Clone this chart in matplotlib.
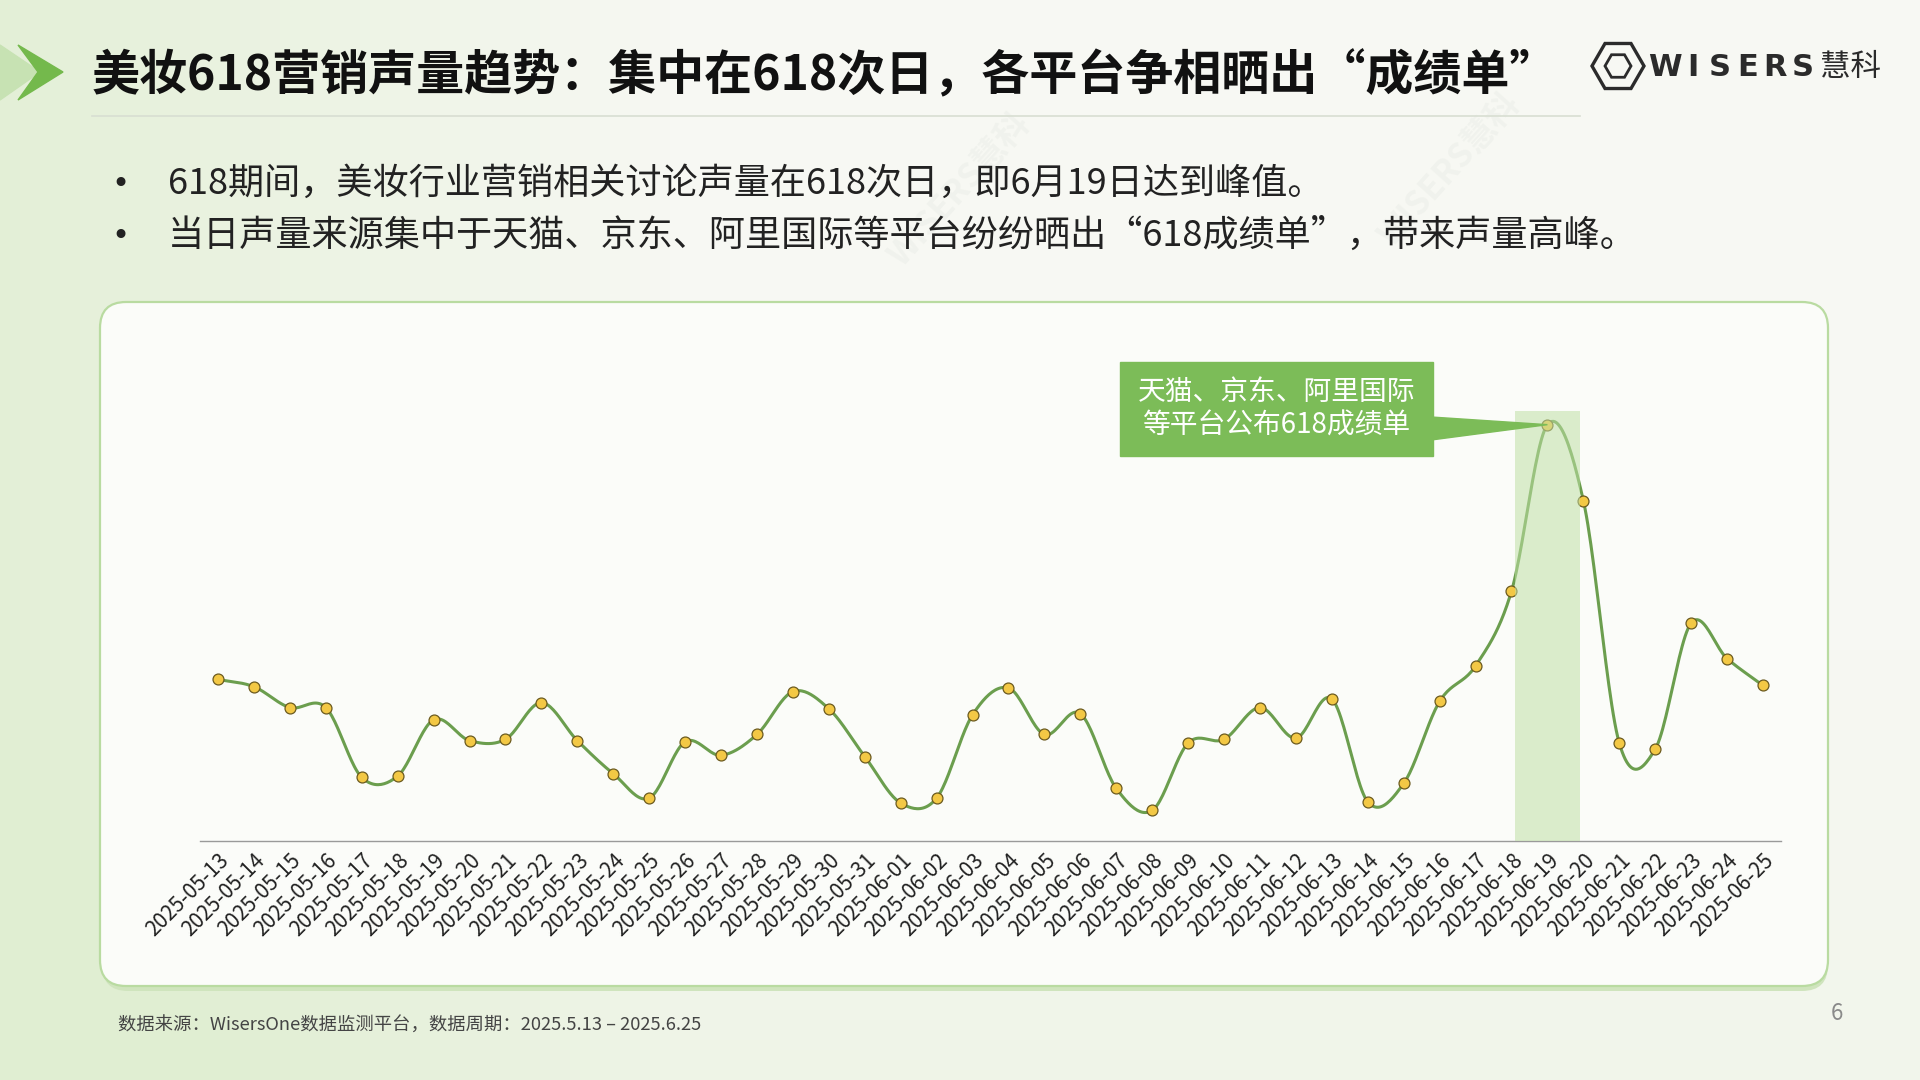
import matplotlib
matplotlib.use('Agg')
import matplotlib.pyplot as plt
import numpy as np
from matplotlib.patches import FancyBboxPatch, Polygon, Rectangle, RegularPolygon

CJK = ['Noto Sans CJK SC', 'DejaVu Sans']
plt.rcParams['font.family'] = CJK

# ---- data (arbitrary volume units) ----
dates = ['2025-05-%02d' % d for d in range(13, 32)] + ['2025-06-%02d' % d for d in range(1, 26)]
volume = [132, 126, 109, 109, 52, 53, 99, 82, 83, 113, 82, 55, 35, 81, 70, 87,
          122, 108, 69, 31, 35, 103, 125, 87, 104, 43, 25, 80, 83, 109, 84, 116,
          32, 47, 114, 143, 204, 340, 278, 80, 75, 178, 149, 127]
peak_date = '2025-06-19'

title = '美妆618营销声量趋势：集中在618次日，各平台争相晒出“成绩单”'
bullets = ['618期间，美妆行业营销相关讨论声量在618次日，即6月19日达到峰值。',
           '当日声量来源集中于天猫、京东、阿里国际等平台纷纷晒出“618成绩单”，带来声量高峰。']
callout = '天猫、京东、阿里国际\n等平台公布618成绩单'
source = '数据来源：WisersOne数据监测平台，数据周期：2025.5.13 – 2025.6.25'

LINE = '#6b9e4e'
DOT = '#f3c845'
BOX = '#7cbc58'


def catmull_rom(x, y, n=24):
    pts = np.column_stack([x, y]).astype(float)
    p = np.vstack([2 * pts[0] - pts[1], pts, 2 * pts[-1] - pts[-2]])
    t = np.linspace(0, 1, n, endpoint=False)[:, None]
    out = []
    for i in range(1, len(p) - 2):
        p0, p1, p2, p3 = p[i - 1], p[i], p[i + 1], p[i + 2]
        out.append(0.5 * (2 * p1 + (-p0 + p2) * t + (2 * p0 - 5 * p1 + 4 * p2 - p3) * t ** 2
                          + (-p0 + 3 * p1 - 3 * p2 + p3) * t ** 3))
    out.append(pts[-1:])
    s = np.vstack(out)
    return s[:, 0], s[:, 1]


fig = plt.figure(figsize=(19.2, 10.8), dpi=100)

# ---- background layer in pixel coordinates ----
bg = fig.add_axes([0, 0, 1, 1], zorder=0)
bg.set_xlim(0, 1920)
bg.set_ylim(1080, 0)
bg.axis('off')

gx, gy = np.meshgrid(np.linspace(0, 1, 192), np.linspace(0, 1, 108))
w = np.clip(1 - gx / 0.35, 0, 1) * 0.85 + np.clip((gy - 0.6) / 0.4, 0, 1) * 0.45 * (1 - gx * 0.5)
w = np.clip(w, 0, 1)
c0 = np.array([247, 248, 243]) / 255
c1 = np.array([224, 238, 210]) / 255
img = c0[None, None, :] * (1 - w[..., None]) + c1[None, None, :] * w[..., None]
bg.imshow(img, extent=(0, 1920, 1080, 0), aspect='auto', zorder=0)

# faint watermarks
for (wx, wy) in [(960, 190), (1450, 170), (190, 380), (640, 420), (1080, 430),
                 (1580, 420), (240, 770), (760, 760), (1240, 770), (1730, 760)]:
    bg.text(wx, wy, 'WISERS慧科', rotation=48, fontsize=24, fontweight='bold',
            color='#9aa59a', alpha=0.07, ha='center', va='center', zorder=1)

# chevron
bg.add_patch(Polygon([(0, 45), (40, 72), (0, 100)], closed=True, color='#c7e2b3', zorder=2))
bg.add_patch(Polygon([(18, 45), (63, 72), (18, 100), (38, 72)], closed=True, color='#74b94c', zorder=3))

bg.text(92, 76, title, fontsize=34.6, fontweight='bold', color='#111111', va='center', ha='left', zorder=3)
bg.plot([92, 1580], [116, 116], color='#d8ded2', lw=1.2, zorder=2)

# logo
bg.add_patch(RegularPolygon((1618, 66), 6, radius=26, orientation=np.pi / 6, fill=False,
                            ec='#2b2b2b', lw=2.4, zorder=3))
bg.add_patch(RegularPolygon((1618, 66), 6, radius=13, orientation=np.pi / 6, fill=False,
                            ec='#2b2b2b', lw=2.0, zorder=3))
for i, ch in enumerate('WISERS'):
    bg.text(1665 + i * 27.5, 67, ch, fontsize=22, fontweight='bold', color='#2b2b2b',
            ha='center', va='center', family='DejaVu Sans', zorder=3)
bg.text(1820, 67, '慧科', fontsize=22, color='#2b2b2b', ha='left', va='center', zorder=3)

# bullets
for i, b in enumerate(bullets):
    y = 184 + i * 52
    bg.text(120, y, '•', fontsize=22, color='#222222', ha='center', va='center',
            family='DejaVu Sans', zorder=3)
    bg.text(168, y, b, fontsize=26, color='#222222', ha='left', va='center', zorder=3)

# panel with soft shadow
bg.add_patch(FancyBboxPatch((102, 306), 1726, 685, boxstyle='round,pad=0,rounding_size=26',
                            fc='#cfe4bd', ec='none', zorder=2))
bg.add_patch(FancyBboxPatch((100, 302), 1728, 684, boxstyle='round,pad=0,rounding_size=26',
                            fc='#fbfcf9', ec='#b9dba1', lw=1.6, zorder=2))

bg.text(118, 1026, source, fontsize=13.2, color='#444444', ha='left', va='center', zorder=3)
bg.text(1837, 1014, '6', fontsize=16, color='#8a8a8a', ha='center', va='center', zorder=3)

# ---- chart ----
n = len(dates)
step = (1763 - 218) / (n - 1)
left = 218 - 0.5 * step
right = 1763 + 0.5 * step
base_px = 841
unit = 1.2245
ytop = 417
ax = fig.add_axes([left / 1920, (1080 - base_px) / 1080, (right - left) / 1920, ytop * unit / 1080],
                  zorder=2)
ax.patch.set_alpha(0)
ax.set_xlim(-0.5, n - 0.5)
ax.set_ylim(0, ytop)

x = np.arange(n)
sx, sy = catmull_rom(x, volume)
ax.plot(sx, sy, color=LINE, lw=2.2, zorder=3, solid_capstyle='round')
ax.scatter(x, volume, s=62, color=DOT, edgecolor='#6b5a1f', linewidth=0.9, zorder=4)

pk = dates.index(peak_date)
ax.bar(pk, 351, width=1.8, color='#bfe0a6', alpha=0.55, zorder=5)

# callout box
bx0, bx1 = (1120 - left) / step - 0.5, (1433 - left) / step - 0.5
by0, by1 = (base_px - 456) / unit, (base_px - 362) / unit
ax.add_patch(Rectangle((bx0, by0), bx1 - bx0, by1 - by0, color=BOX, clip_on=False, zorder=6))
wy0, wy1 = (base_px - 440) / unit, (base_px - 417) / unit
ax.add_patch(Polygon([(bx1 - 0.05, wy1), (pk, volume[pk]), (bx1 - 0.05, wy0)], closed=True,
                     color=BOX, clip_on=False, zorder=6))
ax.text((bx0 + bx1) / 2, (by0 + by1) / 2, callout, fontsize=20, color='white', ha='center',
        va='center', linespacing=1.15, zorder=7)

for s in ['top', 'right', 'left']:
    ax.spines[s].set_visible(False)
ax.spines['bottom'].set_color('#9a9a9a')
ax.spines['bottom'].set_linewidth(1.0)
ax.set_yticks([])
ax.set_xticks(x)
ax.set_xticklabels(dates, rotation=45, ha='right', rotation_mode='anchor', fontsize=15,
                   color='#222222')
ax.tick_params(axis='x', length=0, pad=6)

fig.savefig('out.png', dpi=100)
